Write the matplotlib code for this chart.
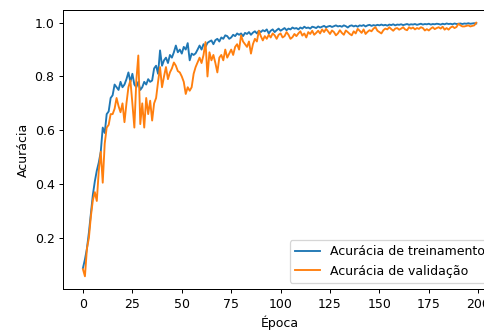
import matplotlib
matplotlib.use("Agg")
import matplotlib.pyplot as plt

# -------------------------
# Dados
# -------------------------

acc_treino = [
    0.088, 0.12, 0.16, 0.22, 0.29, 0.36, 0.41, 0.45, 0.48, 0.52,
    0.61, 0.59, 0.66, 0.67, 0.72, 0.73, 0.77, 0.76, 0.75, 0.78,
    0.76, 0.77, 0.79, 0.815, 0.78, 0.81, 0.77, 0.76, 0.78, 0.75,
    0.76, 0.78, 0.77, 0.79, 0.78, 0.785, 0.83, 0.84, 0.81, 0.897,
    0.84, 0.86, 0.87, 0.85, 0.88, 0.87, 0.89, 0.915, 0.89, 0.90,
    0.885, 0.91, 0.90, 0.924, 0.86, 0.885, 0.88, 0.886, 0.90, 0.915,
    0.90, 0.92, 0.91, 0.925, 0.93, 0.934, 0.92, 0.935, 0.94, 0.93,
    0.945, 0.94, 0.953, 0.95, 0.94, 0.945, 0.955, 0.95, 0.96, 0.955,
    0.96, 0.95, 0.962, 0.958, 0.965, 0.955, 0.963, 0.968, 0.96, 0.97,
    0.965, 0.972, 0.968, 0.975, 0.96, 0.97, 0.975, 0.965, 0.972, 0.978,
    0.97, 0.975, 0.98, 0.972, 0.978, 0.975, 0.982, 0.978, 0.98, 0.975,
    0.982, 0.978, 0.985, 0.98, 0.982, 0.978, 0.985, 0.983, 0.98, 0.986,
    0.982, 0.985, 0.988, 0.983, 0.986, 0.988, 0.984, 0.987, 0.99, 0.986,
    0.988, 0.985, 0.99, 0.987, 0.982, 0.988, 0.99, 0.986, 0.989, 0.985,
    0.99, 0.988, 0.991, 0.986, 0.99, 0.992, 0.988, 0.991, 0.989, 0.992,
    0.99, 0.993, 0.99, 0.992, 0.989, 0.993, 0.991, 0.994, 0.99, 0.993,
    0.992, 0.994, 0.991, 0.993, 0.995, 0.992, 0.994, 0.993, 0.995, 0.992,
    0.994, 0.996, 0.993, 0.995, 0.994, 0.996, 0.993, 0.995, 0.994, 0.996,
    0.995, 0.993, 0.996, 0.994, 0.997, 0.995, 0.996, 0.994, 0.997, 0.995,
    0.996, 0.997, 0.995, 0.997, 0.996, 0.998, 0.996, 0.997, 0.998, 0.997,
]

acc_validacao = [
    0.083, 0.057, 0.16, 0.20, 0.28, 0.34, 0.37, 0.337, 0.45, 0.52,
    0.405, 0.55, 0.61, 0.62, 0.66, 0.66, 0.68, 0.72, 0.69, 0.667,
    0.70, 0.63, 0.70, 0.76, 0.785, 0.70, 0.61, 0.785, 0.878, 0.623,
    0.70, 0.61, 0.72, 0.66, 0.71, 0.636, 0.70, 0.72, 0.78, 0.835,
    0.76, 0.80, 0.835, 0.79, 0.815, 0.83, 0.852, 0.84, 0.82, 0.815,
    0.80, 0.78, 0.735, 0.76, 0.747, 0.76, 0.81, 0.835, 0.852, 0.87,
    0.85, 0.88, 0.928, 0.80, 0.89, 0.86, 0.88, 0.85, 0.815, 0.87,
    0.88, 0.86, 0.90, 0.87, 0.885, 0.90, 0.88, 0.91, 0.92, 0.90,
    0.953, 0.93, 0.92, 0.91, 0.93, 0.885, 0.92, 0.94, 0.93, 0.97,
    0.95, 0.934, 0.95, 0.94, 0.955, 0.945, 0.96, 0.953, 0.94, 0.955,
    0.96, 0.945, 0.95, 0.965, 0.955, 0.94, 0.946, 0.958, 0.95, 0.96,
    0.968, 0.952, 0.96, 0.945, 0.965, 0.958, 0.97, 0.955, 0.962, 0.97,
    0.96, 0.975, 0.965, 0.977, 0.968, 0.958, 0.971, 0.965, 0.953, 0.96,
    0.972, 0.962, 0.955, 0.971, 0.965, 0.958, 0.953, 0.968, 0.96, 0.977,
    0.97, 0.962, 0.975, 0.958, 0.966, 0.972, 0.968, 0.978, 0.983, 0.97,
    0.965, 0.96, 0.972, 0.978, 0.975, 0.983, 0.976, 0.97, 0.978, 0.98,
    0.974, 0.978, 0.983, 0.975, 0.972, 0.983, 0.978, 0.982, 0.975, 0.98,
    0.977, 0.983, 0.98, 0.971, 0.976, 0.971, 0.978, 0.983, 0.976, 0.98,
    0.983, 0.978, 0.985, 0.974, 0.98, 0.974, 0.982, 0.986, 0.98, 0.984,
    0.996, 0.99, 0.986, 0.986, 0.988, 0.99, 0.986, 0.988, 0.99, 1.0,
]

epocas = list(range(len(acc_treino)))

# -------------------------
# Gráfico
# -------------------------

dpi = 90  # a imagem original parece ampliada ~1.25x
fig = plt.figure(figsize=(484 / dpi, 331 / dpi), dpi=dpi)
ax = fig.add_axes([0.1308, 0.1269, 0.8938, 0.8429])

ax.plot(epocas, acc_treino, label="Acurácia de treinamento")
ax.plot(epocas, acc_validacao, label="Acurácia de validação")

ax.set_xlabel("Época")
ax.set_ylabel("Acurácia")
ax.set_xticks([0, 25, 50, 75, 100, 125, 150, 175, 200])
ax.legend(loc="lower right")

fig.savefig("out.png", dpi=dpi)
